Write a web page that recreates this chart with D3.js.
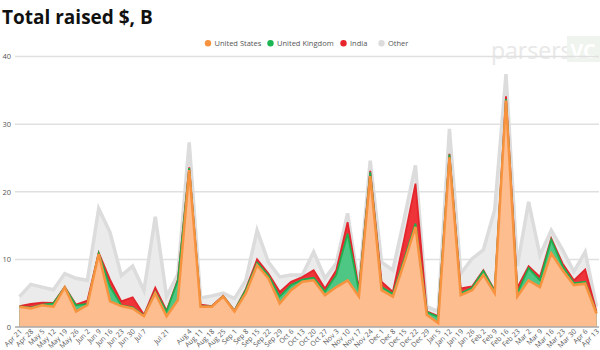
<!DOCTYPE html>
<html>
<head>
<meta charset="utf-8">
<script src="https://cdn.jsdelivr.net/npm/d3@7/dist/d3.min.js"></script>
<style>
  html, body { margin: 0; padding: 0; background: #ffffff; }
  svg { display: block; }
  text { font-family: "Open Sans", "Noto Sans", sans-serif; }
</style>
</head>
<body>
<svg id="chart" width="600" height="350"></svg>
<script>
// ---- data ----
const weeks = ["Apr 21","Apr 28","May 5","May 12","May 19","May 26","Jun 2","Jun 9","Jun 16","Jun 23","Jun 30","Jul 7","Jul 14","Jul 21","Jul 28","Aug 4","Aug 11","Aug 18","Aug 25","Sep 1","Sep 8","Sep 15","Sep 22","Sep 29","Oct 6","Oct 13","Oct 20","Oct 27","Nov 3","Nov 10","Nov 17","Nov 24","Dec 1","Dec 8","Dec 15","Dec 22","Dec 29","Jan 5","Jan 12","Jan 19","Jan 26","Feb 2","Feb 9","Feb 16","Feb 23","Mar 2","Mar 9","Mar 16","Mar 23","Mar 30","Apr 6","Apr 13"];
const tickLabels = weeks.filter(w => w !== "Jul 14" && w !== "Jul 28");
const seriesNames = ["United States","United Kingdom","India","Other"];
const usValues    = [3.0,2.75,3.2,3.0,5.85,2.3,3.25,10.8,3.8,3.1,2.75,1.6,5.0,1.6,4.0,23.2,3.0,3.0,4.5,2.3,5.0,9.15,7.2,3.5,5.45,6.7,6.9,4.7,5.9,6.9,4.5,22.3,5.45,4.5,9.5,14.8,1.8,0.6,25.1,4.7,5.45,7.7,5.0,33.5,4.5,6.9,5.9,10.9,8.4,6.2,6.4,2.0];
const ukValues    = [0.05,0.1,0.1,0.5,0.05,0.9,0.15,0.1,2.2,0.1,0.15,0.1,0.2,0.7,2.9,0.3,0.05,0.05,0.05,0.1,0.5,0.35,0.4,1.0,0.75,0.3,0.4,0.5,1.8,6.9,0.8,0.6,0.45,0.4,0.5,0.5,0.4,0.9,0.4,0.3,0.35,0.6,0.3,0.2,0.5,1.8,1.0,2.0,0.6,0.3,0.3,0.1];
const indiaValues = [0.05,0.55,0.3,0.05,0.05,0.1,0.5,0.1,1.0,0.6,1.5,0.1,0.6,0.1,0.1,0.1,0.25,0.05,0.05,0.05,0.1,0.5,0.3,0.7,0.5,0.4,1.1,0.5,0.7,1.7,0.3,0.2,0.8,0.3,3.0,5.9,0.1,0.1,0.1,0.7,0.2,0.1,0.1,0.4,0.8,0.3,0.5,0.2,0.4,0.4,1.8,0.2];
const otherValues = [1.4,2.9,2.3,1.95,1.95,3.9,3.0,6.5,7.0,3.8,4.6,3.6,10.5,2.1,0.8,3.7,1.0,1.5,0.4,1.75,1.3,4.3,1.7,2.2,1.0,0.3,2.7,1.5,1.0,1.3,0.4,1.5,2.9,3.2,3.0,2.7,0.7,0.7,3.7,2.2,4.1,3.0,11.9,3.3,3.2,9.5,3.2,1.2,2.0,1.3,2.6,0.7];
const yTicks = [0,10,20,30,40];

// ---- styles ----
const fills   = {"United States":"#fdbd8e","United Kingdom":"#4fc784","India":"#ee3438","Other":"#ebebeb"};
const strokes = {"United States":"#f7923e","United Kingdom":"#1fae4e","India":"#e3262d","Other":"#dcdcdc"};
const swatch  = {"United States":"#f7923e","United Kingdom":"#1bb553","India":"#e8252c","Other":"#dcdcdc"};
const strokeW = {"United States":2.5,"United Kingdom":1.8,"India":1.8,"Other":3.5};

const table = weeks.map((w, i) => ({
  week: w,
  "United States": usValues[i],
  "United Kingdom": ukValues[i],
  "India": indiaValues[i],
  "Other": otherValues[i]
}));

const svg = d3.select("#chart");
const x = d3.scalePoint().domain(weeks).range([19.5, 596.5]);
const y = d3.scaleLinear().domain([0, 40]).range([327, 56.5]);

// title
svg.append("text").attr("x", 2).attr("y", 24)
  .attr("font-size", 19).attr("font-weight", 700).attr("fill", "#111")
  .text("Total raised $, B");

// watermark
const wm = svg.append("g").attr("opacity", 0.9);
wm.append("text").attr("x", 491).attr("y", 59).attr("font-size", 23)
  .attr("font-family", "Roboto, sans-serif").attr("fill", "#e6e6e6").text("parsers");
wm.append("rect").attr("x", 567).attr("y", 36).attr("width", 33).attr("height", 26).attr("fill", "#eef3ed");
wm.append("text").attr("x", 583).attr("y", 58).attr("text-anchor", "middle").attr("font-size", 20)
  .attr("font-weight", 700).attr("fill", "#ffffff").text("VC");

// gridlines
const grid = svg.append("g");
grid.selectAll("line").data(yTicks.filter(t => t > 0)).join("line")
  .attr("x1", 15).attr("x2", 599)
  .attr("y1", d => y(d)).attr("y2", d => y(d))
  .attr("stroke", "#e0e0e0").attr("stroke-width", 1.5);

// y axis labels
const yAxis = d3.axisLeft(y).tickValues(yTicks).tickSize(0).tickPadding(0);
const ya = svg.append("g").attr("transform", "translate(11,0)").call(yAxis);
ya.select(".domain").remove();
ya.selectAll("text").attr("font-size", 7.5).attr("fill", "#555").attr("font-family", "\"Open Sans\", sans-serif");

// stacked areas
const stack = d3.stack().keys(seriesNames);
const layers = stack(table);
const areaTop = d3.area().x(d => x(d.data.week)).y0(y(0)).y1(d => y(d[1]));
const lineTop = d3.line().x(d => x(d.data.week)).y(d => y(d[1]));

const g = svg.append("g");
[...layers].reverse().forEach(layer => {
  const k = layer.key;
  g.append("path").datum(layer).attr("d", areaTop).attr("fill", fills[k]);
  g.append("path").datum(layer).attr("d", lineTop).attr("fill", "none")
    .attr("stroke", strokes[k]).attr("stroke-width", strokeW[k]).attr("stroke-linejoin", "miter");
});

// x baseline
svg.append("line").attr("x1", 15).attr("x2", 599).attr("y1", y(0)).attr("y2", y(0))
  .attr("stroke", "#a8a8a8").attr("stroke-width", 1.5);

// x axis labels
const xAxis = d3.axisBottom(x).tickValues(tickLabels).tickSize(0).tickPadding(0);
const xa = svg.append("g").attr("transform", `translate(0,${y(0)})`).call(xAxis);
xa.select(".domain").remove();
xa.selectAll("text")
  .attr("font-size", 7).attr("fill", "#555").attr("font-family", "\"Open Sans\", sans-serif")
  .attr("text-anchor", "end").attr("dy", 0).attr("y", 0)
  .attr("transform", "translate(2.5,5) rotate(-45)");

// legend
const legendX = {"United States":208,"United Kingdom":270.5,"India":343.5,"Other":381.5};
const lg = svg.append("g");
seriesNames.forEach(k => {
  lg.append("circle").attr("cx", legendX[k]).attr("cy", 43.3).attr("r", 3.2).attr("fill", swatch[k]);
  lg.append("text").attr("x", legendX[k] + 6.5).attr("y", 45.8).attr("font-size", 7.5).attr("fill", "#555").text(k);
});
</script>
</body>
</html>
